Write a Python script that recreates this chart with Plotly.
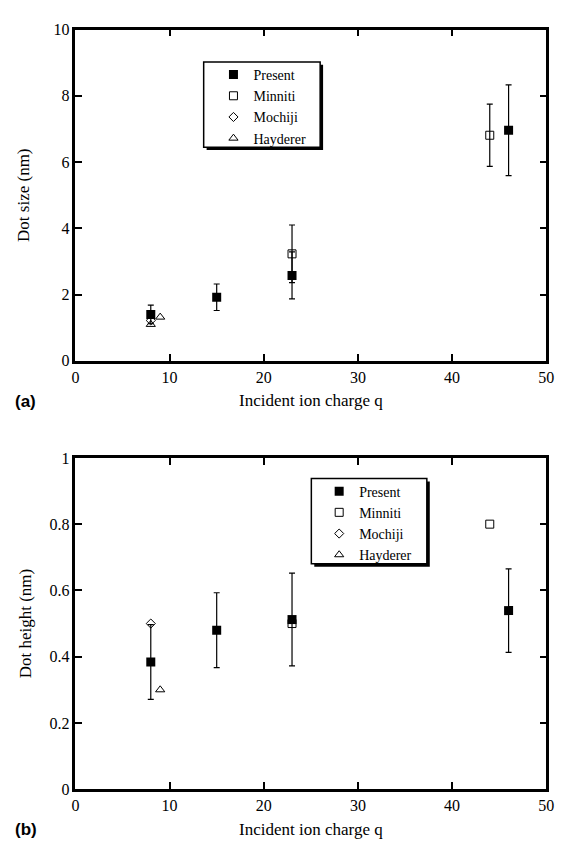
import plotly.graph_objects as go

# ---------------- data ----------------
# (a) dot size (nm)
q_present = [8, 15, 23, 46]
size_present = [1.40, 1.92, 2.58, 6.96]
size_present_err = [0.28, 0.40, 0.71, 1.37]

q_minniti_a = [23, 44]
size_minniti = [3.23, 6.81]
size_minniti_err = [0.87, 0.94]

q_mochiji_a = [8]
size_mochiji = [1.22]

q_hayderer_a = [8, 9]
size_hayderer = [1.10, 1.32]

# (b) dot height (nm)
height_present = [0.384, 0.480, 0.512, 0.539]
height_present_err = [0.113, 0.113, 0.140, 0.126]

q_minniti_b = [23, 44]
height_minniti = [0.50, 0.80]

q_mochiji_b = [8]
height_mochiji = [0.50]

q_hayderer_b = [9]
height_hayderer = [0.30]

series_names = ["Present", "Minniti", "Mochiji", "Hayderer"]
x_ticks = [0, 10, 20, 30, 40, 50]
ya_ticks = [0, 2, 4, 6, 8, 10]
yb_ticks = [0, 0.2, 0.4, 0.6, 0.8, 1]
yb_ticklabels = ["0", "0.2", "0.4", "0.6", "0.8", "1"]

# ---------------- layout helpers ----------------
W, H = 566, 857

def px(x):  # pixel -> paper fraction
    return x / W

def py(y):
    return 1 - y / H

SERIF = "Liberation Serif"
SANS = "Liberation Sans"

fig = go.Figure()

err_style = dict(type="data", visible=True, color="black", thickness=1.2, width=3)
sym = dict(
    Present=dict(symbol="square", size=9, color="black"),
    Minniti=dict(symbol="square-open", size=8, color="black", line=dict(width=1)),
    Mochiji=dict(symbol="diamond-open", size=7, color="black", line=dict(width=1)),
    Hayderer=dict(symbol="triangle-up-open", size=8, color="black", line=dict(width=1)),
)

def add(name, x, y, err, xa, ya, leg):
    kw = {}
    if err is not None:
        kw["error_y"] = dict(array=err, **err_style)
    fig.add_trace(go.Scatter(x=x, y=y, mode="markers", name=name, marker=sym[name],
                             xaxis=xa, yaxis=ya, legend=leg, showlegend=True, **kw))

# (a)
add("Present", q_present, size_present, size_present_err, "x", "y", "legend")
add("Minniti", q_minniti_a, size_minniti, size_minniti_err, "x", "y", "legend")
add("Mochiji", q_mochiji_a, size_mochiji, None, "x", "y", "legend")
add("Hayderer", q_hayderer_a, size_hayderer, None, "x", "y", "legend")
# (b)
add("Present", q_present, height_present, height_present_err, "x2", "y2", "legend2")
add("Minniti", q_minniti_b, height_minniti, None, "x2", "y2", "legend2")
add("Mochiji", q_mochiji_b, height_mochiji, None, "x2", "y2", "legend2")
add("Hayderer", q_hayderer_b, height_hayderer, None, "x2", "y2", "legend2")

axis_common = dict(showline=True, linecolor="black", linewidth=2.5, mirror="ticks",
                   ticks="inside", ticklen=7, tickwidth=2, tickcolor="black",
                   showgrid=False, zeroline=False,
                   tickfont=dict(family=SERIF, size=16, color="black"))

title_font = dict(family=SERIF, size=17, color="black")
xdom = [px(73), px(554)]
leg_font = dict(family=SERIF, size=14, color="black")

fig.update_layout(
    width=W, height=H, margin=dict(l=0, r=0, t=0, b=0),
    paper_bgcolor="white", plot_bgcolor="white",
    font=dict(family=SERIF, color="black"),
    xaxis=dict(domain=xdom, range=[0, 50], tickvals=x_ticks, anchor="y",
               title=dict(text="Incident ion charge q", font=title_font, standoff=10),
               **axis_common),
    yaxis=dict(domain=[py(360), py(22)], range=[0, 10], tickvals=ya_ticks, anchor="x",
               title=dict(text="Dot size (nm)", font=title_font, standoff=20),
               **axis_common),
    xaxis2=dict(domain=xdom, range=[0, 50], tickvals=x_ticks, anchor="y2",
                title=dict(text="Incident ion charge q", font=title_font, standoff=10),
                **axis_common),
    yaxis2=dict(domain=[py(797), py(459)], range=[0, 1], tickvals=yb_ticks, ticktext=yb_ticklabels,
                anchor="x2",
                title=dict(text="Dot height (nm)", font=title_font, standoff=14),
                **axis_common),
    legend=dict(x=px(214), y=py(52), xanchor="left", yanchor="top", bgcolor="rgba(0,0,0,0)",
                borderwidth=0, font=leg_font, itemsizing="trace", tracegroupgap=0),
    legend2=dict(x=px(322), y=py(477), xanchor="left", yanchor="top", bgcolor="rgba(0,0,0,0)",
                 borderwidth=0, font=leg_font, itemsizing="trace", tracegroupgap=0),
    showlegend=True,
)

# legend frames with drop shadows
def frame(x0, y0, x1, y1):
    return [
        dict(type="rect", xref="paper", yref="paper", layer="below",
             x0=px(x0 + 3), x1=px(x1 + 3), y0=py(y1 + 3), y1=py(y0 + 3),
             fillcolor="black", line=dict(width=0)),
        dict(type="rect", xref="paper", yref="paper", layer="below",
             x0=px(x0), x1=px(x1), y0=py(y1), y1=py(y0),
             fillcolor="white", line=dict(color="black", width=1.5)),
    ]

shapes = frame(204, 55, 323, 142) + frame(314, 480, 432, 567)
fig.update_layout(shapes=shapes)

fig.add_annotation(text="<b>(a)</b>", x=px(22), y=py(401), xref="paper", yref="paper",
                   showarrow=False, font=dict(family=SANS, size=17, color="black"),
                   xanchor="center", yanchor="middle")
fig.add_annotation(text="<b>(b)</b>", x=px(22), y=py(838), xref="paper", yref="paper",
                   showarrow=False, font=dict(family=SANS, size=17, color="black"),
                   xanchor="center", yanchor="middle")

# remove the browser's default 8px page margin so the figure fills the window
fig.write_html("out.html", config={"displayModeBar": False},
               post_script="document.body.style.margin='0';document.body.style.overflow='hidden';")
